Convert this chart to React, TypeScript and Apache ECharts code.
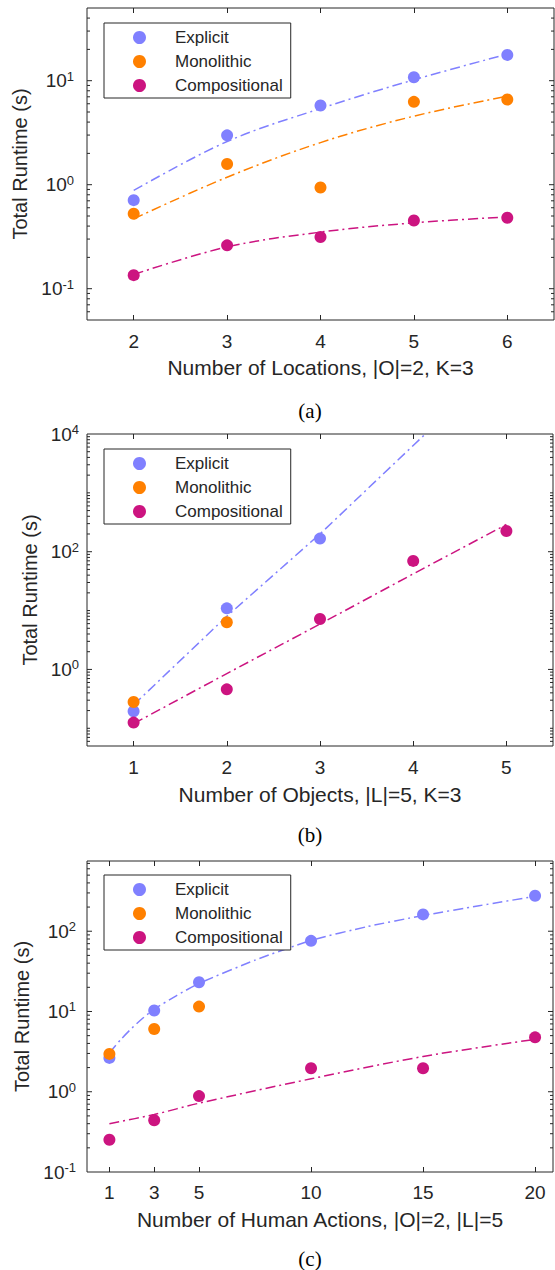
import React, { useEffect, useRef } from 'react';
import * as echarts from 'echarts';

const FONT = 'Liberation Sans, Arial, Helvetica, sans-serif';
const INK = '#262626';
const C_EXPLICIT = '#8080ff';
const C_MONO = '#ff8000';
const C_COMP = '#cc1480';
const SERIES_NAMES = ['Explicit', 'Monolithic', 'Compositional'];

// ---------- (a) Number of Locations ----------
const locations = [2, 3, 4, 5, 6];
const explicitA = [0.71, 2.98, 5.77, 10.8, 17.7];
const monolithicA = [0.525, 1.58, 0.94, 6.26, 6.59];
const compositionalA = [0.135, 0.261, 0.314, 0.453, 0.481];
const explicitFitA = [0.88, 2.6, 5.4, 10.2, 18];
const monolithicFitA = [0.47, 1.18, 2.54, 4.56, 7.1];
const compositionalFitA = [0.137, 0.252, 0.35, 0.43, 0.49];
const xLabelA = 'Number of Locations, |O|=2, K=3';

// ---------- (b) Number of Objects ----------
const objects = [1, 2, 3, 4, 5];
const explicitBX = [1, 2, 3];
const explicitB = [0.195, 10.9, 167];
const monolithicBX = [1, 2];
const monolithicB = [0.28, 6.32];
const compositionalB = [0.125, 0.459, 7.2, 69.8, 225];
const explicitFitBX = [1, 2, 3, 4.13];
const explicitFitB = [0.25, 8, 200, 10000];
const compositionalFitB = [0.12, 0.85, 5.9, 42, 290];
const xLabelB = 'Number of Objects, |L|=5, K=3';

// ---------- (c) Number of Human Actions ----------
const actions = [1, 3, 5, 10, 15, 20];
const explicitC = [2.64, 10.3, 23.1, 75.9, 162, 277];
const monolithicCX = [1, 3, 5];
const monolithicC = [2.96, 6.04, 11.5];
const compositionalC = [0.252, 0.441, 0.883, 1.96, 1.96, 4.76];
const explicitFitCX = [1, 1.5, 2, 2.5, 3, 4, 5, 7.5, 10, 12.5, 15, 17.5, 20];
const explicitFitC = [3.04, 4.45, 6.2, 8.3, 10.7, 15.8, 22.4, 43.6, 76.9, 114, 157, 208, 272];
const compositionalFitCX = [1, 3, 5, 10, 15, 20];
const compositionalFitC = [0.4, 0.52, 0.72, 1.45, 2.75, 4.5];
const xLabelC = 'Number of Human Actions, |O|=2, |L|=5';

const captions = ['(a)', '(b)', '(c)'];
const yTitle = 'Total Runtime (s)';

const pairs = (xs: number[], ys: number[]) => xs.map((x, i) => [x, ys[i]]);

function scatter(name: string, xs: number[], ys: number[], color: string, gi: number) {
  return {
    type: 'scatter',
    name,
    xAxisIndex: gi * 2,
    yAxisIndex: gi,
    data: pairs(xs, ys),
    symbol: 'circle',
    symbolSize: 12,
    itemStyle: { color, opacity: 1 },
    z: 4,
  };
}

function fit(id: string, xs: number[], ys: number[], color: string, gi: number, smooth: number | boolean) {
  return {
    type: 'line',
    name: id,
    xAxisIndex: gi * 2,
    yAxisIndex: gi,
    data: pairs(xs, ys),
    symbol: 'none',
    showSymbol: false,
    smooth,
    silent: true,
    clip: true,
    lineStyle: { color, width: 1.5, type: [10, 4, 2, 4] },
    z: 3,
  };
}

function yTickItems(min: number, max: number, majors: number[], xmin: number) {
  const items: number[][] = [];
  for (let k = Math.floor(Math.log10(min)); k <= Math.ceil(Math.log10(max)); k++) {
    for (let m = 1; m <= 9; m++) {
      const v = m * Math.pow(10, k);
      if (v <= min * 1.0001 || v >= max * 0.9999) continue;
      const major = m === 1 && majors.indexOf(k) >= 0;
      items.push([xmin, v, major ? 5 : 3]);
    }
  }
  return items;
}

function tickSeries(gi: number, ymin: number, ymax: number, majors: number[], xmin: number, xmax: number) {
  return {
    type: 'custom',
    name: 'yticks' + gi,
    xAxisIndex: gi * 2,
    yAxisIndex: gi,
    silent: true,
    z: 6,
    data: yTickItems(ymin, ymax, majors, xmin),
    encode: { x: 0, y: 1 },
    renderItem: (_p: any, api: any) => {
      const v = api.value(1);
      const len = api.value(2);
      const a = api.coord([xmin, v]);
      const b = api.coord([xmax, v]);
      return {
        type: 'group',
        children: [
          { type: 'line', shape: { x1: a[0], y1: a[1], x2: a[0] + len, y2: a[1] }, style: { stroke: INK, lineWidth: 1 } },
          { type: 'line', shape: { x1: b[0] - len, y1: b[1], x2: b[0], y2: b[1] }, style: { stroke: INK, lineWidth: 1 } },
        ],
      };
    },
  };
}

function powLabel(allowed: number[]) {
  return (value: number) => {
    const e = Math.log10(value);
    const r = Math.round(e);
    if (Math.abs(e - r) > 1e-6 || allowed.indexOf(r) < 0) return '';
    return '{b|10}{s|' + r + '}';
  };
}

const grids = [
  { left: 87, top: 8, width: 467, height: 312 },
  { left: 87, top: 434, width: 466, height: 312 },
  { left: 87, top: 861, width: 466, height: 311 },
];
const xRanges = [
  [1.5, 6.5],
  [0.5, 5.5],
  [0, 20.8],
];
const xTicks = [locations, objects, actions];
const yRanges = [
  [0.05, 50],
  [0.05, 10000],
  [0.1, 750],
];
const yMajors = [
  [-1, 0, 1],
  [0, 2, 4],
  [-1, 0, 1, 2],
];
const xNames = [xLabelA, xLabelB, xLabelC];
const xNameGaps = [37, 38, 37];
const xLabelMargins = [12, 12, 11];
const yLabelMargins = [13, 8, 11];
const yNameGaps = [48, 45, 48];
const legendTops = [23, 449, 875];
const captionY = [411, 835, 1259];

function buildOption() {
  const xAxis: any[] = [];
  const yAxis: any[] = [];
  for (let g = 0; g < 3; g++) {
    const ticks = xTicks[g];
    const base: any = {
      type: 'value',
      gridIndex: g,
      min: xRanges[g][0],
      max: xRanges[g][1],
      splitLine: { show: false },
      axisLine: { show: false },
    };
    xAxis.push({
      ...base,
      position: 'bottom',
      name: xNames[g],
      nameLocation: 'middle',
      nameGap: xNameGaps[g],
      nameTextStyle: { fontFamily: FONT, fontSize: 21, color: INK },
      axisTick: { show: true, inside: true, length: 5, customValues: ticks, lineStyle: { color: INK, width: 1 } },
      axisLabel: {
        show: true,
        margin: xLabelMargins[g],
        fontFamily: FONT,
        fontSize: 19,
        color: INK,
        customValues: ticks,
        formatter: (v: number) => String(v),
      },
    });
    xAxis.push({
      ...base,
      position: 'top',
      axisTick: { show: true, inside: true, length: 5, customValues: ticks, lineStyle: { color: INK, width: 1 } },
      axisLabel: { show: false },
    });
    yAxis.push({
      type: 'log',
      logBase: 10,
      gridIndex: g,
      min: yRanges[g][0],
      max: yRanges[g][1],
      position: 'left',
      splitLine: { show: false },
      axisLine: { show: false },
      axisTick: { show: false },
      minorTick: { show: false },
      name: yTitle,
      nameLocation: 'middle',
      nameGap: yNameGaps[g],
      nameTextStyle: { fontFamily: FONT, fontSize: 20, color: INK },
      axisLabel: {
        show: true,
        margin: yLabelMargins[g],
        showMinLabel: true,
        showMaxLabel: true,
        formatter: powLabel(yMajors[g]),
        rich: {
          b: { fontFamily: FONT, fontSize: 19, lineHeight: 22, color: INK },
          s: { fontFamily: FONT, fontSize: 13, lineHeight: 13, color: INK, verticalAlign: 'top' },
        },
      },
    });
  }

  const series: any[] = [
    fit('Explicit fit a', locations, explicitFitA, C_EXPLICIT, 0, 0.35),
    fit('Monolithic fit a', locations, monolithicFitA, C_MONO, 0, 0.35),
    fit('Compositional fit a', locations, compositionalFitA, C_COMP, 0, 0.35),
    scatter('Explicit', locations, explicitA, C_EXPLICIT, 0),
    scatter('Monolithic', locations, monolithicA, C_MONO, 0),
    scatter('Compositional', locations, compositionalA, C_COMP, 0),
    tickSeries(0, yRanges[0][0], yRanges[0][1], yMajors[0], xRanges[0][0], xRanges[0][1]),

    fit('Explicit fit b', explicitFitBX, explicitFitB, C_EXPLICIT, 1, false),
    fit('Compositional fit b', objects, compositionalFitB, C_COMP, 1, false),
    scatter('Explicit', explicitBX, explicitB, C_EXPLICIT, 1),
    scatter('Monolithic', monolithicBX, monolithicB, C_MONO, 1),
    scatter('Compositional', objects, compositionalB, C_COMP, 1),
    tickSeries(1, yRanges[1][0], yRanges[1][1], yMajors[1], xRanges[1][0], xRanges[1][1]),

    fit('Explicit fit c', explicitFitCX, explicitFitC, C_EXPLICIT, 2, 0.2),
    fit('Compositional fit c', compositionalFitCX, compositionalFitC, C_COMP, 2, 0.3),
    scatter('Explicit', actions, explicitC, C_EXPLICIT, 2),
    scatter('Monolithic', monolithicCX, monolithicC, C_MONO, 2),
    scatter('Compositional', actions, compositionalC, C_COMP, 2),
    tickSeries(2, yRanges[2][0], yRanges[2][1], yMajors[2], xRanges[2][0], xRanges[2][1]),
  ];

  const legend = legendTops.map((top) => ({
    data: SERIES_NAMES,
    orient: 'vertical',
    left: 104,
    top,
    icon: 'circle',
    itemWidth: 13,
    itemHeight: 13,
    itemGap: 7,
    padding: [6, 8, 4, 29],
    backgroundColor: '#ffffff',
    borderColor: INK,
    borderWidth: 1,
    borderRadius: 0,
    selectedMode: false,
    textStyle: { fontFamily: FONT, fontSize: 17, color: INK, padding: [0, 0, 0, 24] },
  }));

  return {
    animation: false,
    backgroundColor: '#ffffff',
    grid: grids.map((g) => ({
      ...g,
      show: true,
      borderColor: INK,
      borderWidth: 1,
      backgroundColor: 'transparent',
      containLabel: false,
      outerBoundsMode: 'none',
    })),
    xAxis,
    yAxis,
    legend,
    series,
    graphic: captions.map((t, i) => ({
      type: 'text',
      x: 310,
      y: captionY[i],
      silent: true,
      style: {
        text: t,
        fontFamily: 'Liberation Serif, Times New Roman, serif',
        fontSize: 21,
        fill: '#000000',
        align: 'center',
        verticalAlign: 'middle',
      },
    })),
  };
}

export default function App() {
  const ref = useRef<HTMLDivElement>(null);
  useEffect(() => {
    if (!ref.current) return;
    const chart = echarts.init(ref.current, undefined, { renderer: 'svg' });
    chart.setOption(buildOption() as any);
    return () => chart.dispose();
  }, []);
  return (
    <div
      ref={ref}
      style={{ position: 'absolute', left: 0, top: 0, width: 555, height: 1270, background: '#fff' }}
    />
  );
}
